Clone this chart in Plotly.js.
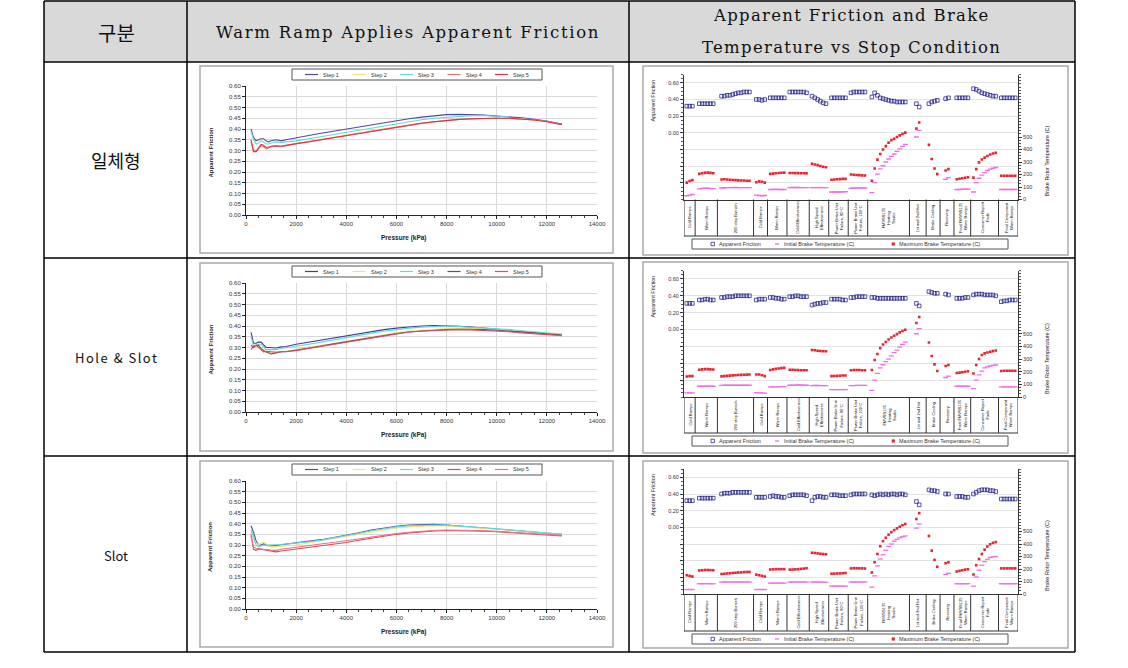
<!DOCTYPE html>
<html><head><meta charset="utf-8">
<script src="https://cdn.plot.ly/plotly-3.0.1.min.js"></script>
<style>html,body{margin:0;padding:0;background:#fff;}#chart{width:1128px;height:668px;}</style>
</head><body><div id="chart"></div>
<script>
// ================= DATA =================
const rowLabels = ["일체형", "Hole & Slot", "Slot"];
const headerCol1 = "구분";
const headerCol2 = "Warm Ramp Applies Apparent Friction";
const headerCol3a = "Apparent Friction and Brake";
const headerCol3b = "Temperature vs Stop Condition";
const stepNames = ["Step 1", "Step 2", "Step 3", "Step 4", "Step 5"];
const seriesNames = ["Apparent Friction", "Initial Brake Temperature (C)", "Maximum Brake Temperature (C)"];

// Warm ramp: pressure (kPa)
const pressure = [200,300,400,500,600,700,800,900,1000,1200,1400,1600,2000,2500,3000,3500,4000,4500,5000,5500,6000,6500,7000,7500,8000,8500,9000,9500,10000,10500,11000,11500,12000,12600];

// Row 1 (일체형) warm ramp friction
const rampA_step1 = [0.400,0.360,0.345,0.350,0.355,0.355,0.345,0.340,0.345,0.350,0.345,0.350,0.360,0.370,0.380,0.390,0.400,0.410,0.420,0.430,0.440,0.448,0.455,0.462,0.467,0.468,0.467,0.465,0.460,0.457,0.452,0.445,0.437,0.423];
const rampA_step2 = [0.350,0.310,0.300,0.315,0.325,0.320,0.310,0.315,0.320,0.322,0.320,0.325,0.335,0.343,0.352,0.362,0.372,0.382,0.392,0.402,0.412,0.420,0.428,0.435,0.440,0.445,0.448,0.450,0.450,0.450,0.447,0.442,0.435,0.420];
const rampA_step3 = [0.390,0.350,0.330,0.335,0.345,0.340,0.330,0.330,0.335,0.340,0.338,0.340,0.345,0.355,0.365,0.375,0.385,0.395,0.405,0.415,0.425,0.435,0.443,0.450,0.455,0.460,0.462,0.462,0.460,0.457,null,null,null,null];
const rampA_step4 = [0.340,0.300,0.295,0.310,0.322,0.318,0.308,0.312,0.318,0.320,0.318,0.322,0.332,0.340,0.349,0.359,0.369,0.379,0.389,0.399,0.409,0.418,0.426,0.433,0.439,0.444,0.447,0.449,0.450,0.449,0.447,0.442,0.435,0.421];
const rampA_step5 = [0.350,0.295,0.295,0.310,0.328,0.324,0.314,0.316,0.320,0.322,0.320,0.324,0.333,0.341,0.350,0.360,0.370,0.380,0.390,0.400,0.410,0.419,0.427,0.434,0.440,0.445,0.448,0.450,0.450,0.450,0.447,0.442,0.434,0.420];
// Row 2 (Hole & Slot)
const rampB_step1 = [0.370,0.320,0.320,0.325,0.325,0.310,0.300,0.300,0.300,0.298,0.303,0.305,0.315,0.325,0.335,0.345,0.355,0.365,0.375,0.383,0.390,0.396,0.400,0.402,0.402,0.399,0.395,0.390,0.385,0.380,0.375,0.370,0.365,0.360];
const rampB_step2 = [0.320,0.300,0.305,0.310,0.300,0.290,0.280,0.275,0.275,0.280,0.280,0.283,0.290,0.300,0.310,0.320,0.330,0.340,0.350,0.360,0.368,0.375,0.380,0.385,0.388,0.390,0.390,0.388,0.385,0.382,0.378,0.373,0.368,0.365];
const rampB_step3 = [0.350,0.310,0.310,0.315,0.315,0.300,0.290,0.290,0.290,0.290,0.295,0.298,0.305,0.315,0.325,0.336,0.347,0.357,0.367,0.376,0.384,0.390,0.395,0.398,0.400,0.398,0.395,0.392,0.388,0.383,0.378,0.372,0.366,0.360];
const rampB_step4 = [0.310,0.300,0.310,0.310,0.295,0.285,0.280,0.275,0.270,0.275,0.280,0.280,0.287,0.297,0.307,0.317,0.327,0.337,0.347,0.357,0.365,0.372,0.377,0.381,0.384,0.385,0.385,0.383,0.380,0.376,0.372,0.367,0.362,0.358];
const rampB_step5 = [0.290,0.305,0.310,0.300,0.290,0.280,0.282,0.280,0.280,0.278,0.280,0.282,0.285,0.295,0.305,0.315,0.325,0.335,0.345,0.355,0.364,0.372,0.377,0.380,0.382,0.383,0.382,0.380,0.377,0.373,0.368,0.363,0.358,0.355];
// Row 3 (Slot)
const rampC_step1 = [0.390,0.360,0.320,0.300,0.300,0.305,0.300,0.295,0.295,0.298,0.300,0.302,0.310,0.317,0.325,0.335,0.345,0.357,0.370,0.380,0.388,0.394,0.397,0.397,0.394,0.390,0.385,0.380,0.375,0.370,0.365,0.360,0.355,0.350];
const rampC_step2 = [0.360,0.330,0.310,0.300,0.310,0.315,0.305,0.295,0.290,0.293,0.295,0.297,0.300,0.310,0.320,0.330,0.340,0.352,0.363,0.372,0.380,0.385,0.388,0.390,0.389,0.386,0.382,0.378,0.374,0.370,0.365,0.360,0.355,0.350];
const rampC_step3 = [0.370,0.340,0.300,0.290,0.295,0.300,0.300,0.300,0.300,0.300,0.302,0.305,0.308,0.315,0.323,0.333,0.343,0.355,0.367,0.377,0.385,0.390,0.393,0.394,0.393,0.390,0.386,0.381,0.376,0.371,0.366,0.360,0.355,0.350];
const rampC_step4 = [0.350,0.280,0.275,0.280,0.280,0.278,0.275,0.273,0.272,0.268,0.272,0.275,0.280,0.288,0.296,0.304,0.312,0.322,0.332,0.342,0.350,0.357,0.362,0.366,0.368,0.368,0.367,0.365,0.362,0.358,0.355,0.350,0.346,0.343];
const rampC_step5 = [0.340,0.290,0.285,0.285,0.282,0.280,0.280,0.278,0.275,0.275,0.280,0.283,0.288,0.295,0.303,0.311,0.319,0.328,0.337,0.346,0.354,0.360,0.365,0.368,0.370,0.370,0.369,0.367,0.364,0.360,0.357,0.352,0.348,0.345];

// Stop conditions (category boxes) and their widths in stop slots
const stopGroups = ["Cold Ramps","Warm Ramps","200 stop Burnish","Cold Ramps","Warm Ramps","Cold Effectiveness","High Speed<br>Effectiveness","Power Brake Unit<br>Failure, 80°C","Power Brake Unit<br>Failure, 100°C","FMVSS135<br>Heating<br>Snubs","1st and 2nd Hot","Brake Cooling","Recovery","Final FMVSS135<br>Warm Ramps","Consumer Report<br>Fade","Final Component<br>Warm Ramps"];
const groupSlots = [4,8,13,5,7,8,7,7,7,15,6,5,5,6,10,7];

// Row 1 (일체형)
const frictionA = [[0.32,0.32,0.32],[0.35,0.35,0.35,0.35,0.35,0.35],[0.44,0.44,0.45,0.45,0.46,0.47,0.48,0.48,0.49,0.49,0.49],[0.40,0.40,0.39,0.40],[0.42,0.42,0.42,0.42,0.42,0.42],[0.49,0.49,0.49,0.49,0.49,0.49,0.48],[0.44,0.42,0.40,0.38,0.36,0.35],[0.42,0.42,0.42,0.42,0.42,0.42],[0.48,0.49,0.49,0.49,0.49,0.49],[0.43,0.48,0.45,0.42,0.41,0.40,0.39,0.38,0.38,0.37,0.37,0.37,0.37],[0.35,0.31],[0.35,0.37,0.38,0.39],[0.41,0.42],[0.42,0.42,0.42,0.42,0.42],[0.53,0.52,0.50,0.48,0.47,0.46,0.45,0.44,0.44],[0.42,0.42,0.42,0.42,0.42,0.42]];
const initTempA = [[30,35,40],[85,88,90,90,88,87],[92,94,95,95,95,96,95,95,95,95,95],[35,32,30,32],[80,80,82,80,80,80],[95,96,96,96,95,95,95],[95,95,95,95,95,95],[60,60,60,60,62,62],[90,92,92,92,92,92],[55,135,203,245,270,300,324,345,364,385,405,425,440],[500,553],[null,null,null,null],[162,175],[80,80,82,82,82],[60,135,170,195,215,232,243,250,256],[80,80,80,80,80,80]];
const maxTempA = [[135,148,155],[205,210,213,215,213,210],[160,162,160,158,156,155,153,152,152,150,150],[138,145,142,135],[205,207,210,212,214,215],[212,212,211,211,210,210,209],[285,280,275,268,262,258],[158,160,162,163,165,165],[200,198,196,195,193,192],[150,248,319,364,400,427,455,475,485,500,513,525,535],[567,616],[437,324,248,203],[232,243],[162,166,170,174,178],[175,243,297,320,335,348,360,368,373],[190,190,190,190,190,190]];
// Row 2 (Hole & Slot)
const frictionB = [[0.31,0.31,0.31],[0.35,0.35,0.36,0.36,0.35,0.35],[0.38,0.38,0.39,0.39,0.39,0.40,0.40,0.40,0.40,0.40,0.40],[0.35,0.36,0.36,0.36],[0.38,0.38,0.37,0.37,0.36,0.36],[0.39,0.39,0.40,0.40,0.39,0.39,0.39],[0.29,0.30,0.31,0.31,0.32,0.32],[0.36,0.36,0.36,0.36,0.35,0.35],[0.38,0.38,0.39,0.39,0.39,0.39],[0.38,0.38,0.37,0.37,0.37,0.37,0.37,0.37,0.37,0.37,0.37,0.37,0.37],[0.31,0.28],[0.45,0.44,0.43,0.43],[0.42,0.41],[0.37,0.37,0.37,0.38,0.38],[0.41,0.42,0.42,0.42,0.41,0.41,0.41,0.41,0.40],[0.33,0.34,0.34,0.35,0.35,0.35]];
const initTempB = [[32,32,32],[85,85,85,85,85,85],[92,93,93,93,93,93,93,93,93,93,93],[35,32,32,30],[80,80,80,80,82,82],[93,93,94,95,95,94,93],[90,91,91,90,90,90],[58,58,58,58,58,58],[90,90,92,92,92,92],[53,133,186,230,255,280,300,325,350,370,395,415,434],[500,540],[null,null,null,null],[154,165],[85,85,85,85,85],[66,133,175,205,230,238,245,250,253],[80,80,80,80,80,80]];
const maxTempB = [[162,165,165],[215,218,220,220,218,217],[163,165,167,169,171,172,174,175,176,177,178],[178,178,172,165],[213,218,222,225,228,230],[216,215,214,213,212,212,211],[372,370,366,364,362,362],[165,166,167,168,170,170],[212,213,213,213,212,212],[213,293,340,386,415,435,455,470,484,497,511,522,532],[585,633],[431,324,258,205],[245,253],[190,193,196,200,203],[186,253,300,332,345,352,358,363,367],[205,207,208,208,208,207]];
// Row 3 (Slot)
const frictionC = [[0.32,0.32,0.32],[0.35,0.35,0.35,0.35,0.35,0.35],[0.40,0.41,0.41,0.41,0.42,0.42,0.42,0.42,0.42,0.42,0.42],[0.36,0.36,0.36,0.36],[0.37,0.38,0.37,0.37,0.36,0.36],[0.38,0.39,0.39,0.39,0.39,0.39,0.38],[0.32,0.36,0.37,0.37,0.36,0.36],[0.39,0.39,0.39,0.38,0.38,0.38],[0.39,0.40,0.40,0.40,0.40,0.40],[0.39,0.38,0.39,0.40,0.39,0.40,0.39,0.40,0.40,0.39,0.40,0.40,0.39],[0.31,0.27],[0.45,0.44,0.44,0.43],[0.40,0.40],[0.37,0.37,0.37,0.36,0.36],[0.40,0.42,0.44,0.45,0.45,0.45,0.44,0.44,0.43],[0.34,0.34,0.34,0.34,0.34,0.34]];
const initTempC = [[36,36,36],[82,82,83,83,82,82],[96,96,96,96,96,96,96,96,96,96,96],[36,36,36,36],[87,87,87,87,87,87],[96,96,96,96,96,96,96],[96,96,96,94,94,94],[63,63,63,63,63,63],[96,96,96,96,96,96],[55,145,225,280,314,350,380,400,423,437,450,458,464],[527,560],[null,null,null,null],[156,165],[82,82,82,82,82],[63,136,190,230,259,278,292,298,300],[82,82,82,82,82,82]];
const maxTempC = [[150,145,140],[188,190,192,192,191,190],[160,162,164,166,168,170,172,173,175,176,177],[155,150,145,140],[196,197,198,199,199,199],[195,196,197,199,201,203,206],[330,328,325,322,320,318],[162,163,164,165,166,168],[205,206,206,205,205,204],[172,254,320,382,423,450,475,495,511,525,538,550,560],[600,647],[464,347,273,218],[246,254],[180,185,190,195,198],[156,230,280,320,355,380,398,409,415],[205,205,205,205,205,205]];

// ================= BUILD =================
const W = 1128, H = 668;
const X = v => v / W;
const Y = v => 1 - v / H;
const sfx = i => (i === 1 ? '' : String(i));
const FONT = 'Liberation Sans, Arial, sans-serif';

const traces = [], shapes = [], annotations = [];
const layout = {
  width: W, height: H, autosize: false,
  margin: {l: 0, r: 0, t: 0, b: 0, pad: 0},
  paper_bgcolor: '#ffffff', plot_bgcolor: 'rgba(0,0,0,0)',
  showlegend: false, hovermode: false,
  font: {family: FONT, size: 6, color: '#333'}
};

function seg(x0, y0, x1, y1, color, width, layer) {
  shapes.push({type: 'line', xref: 'paper', yref: 'paper', x0: X(x0), y0: Y(y0), x1: X(x1), y1: Y(y1),
    line: {color: color, width: width}, layer: layer || 'above'});
}
function box(x0, y0, x1, y1, color, width, fill, layer) {
  shapes.push({type: 'rect', xref: 'paper', yref: 'paper', x0: X(x0), y0: Y(y0), x1: X(x1), y1: Y(y1),
    line: {color: color, width: width}, fillcolor: fill || 'rgba(0,0,0,0)', layer: layer || 'above'});
}
function label(t, x, y, opts) {
  const base = {text: t, x: X(x), y: Y(y), xref: 'paper', yref: 'paper', showarrow: false,
    xanchor: 'center', yanchor: 'middle', font: {size: 6, color: '#222', family: FONT}};
  annotations.push(Object.assign(base, opts || {}));
}

// ---- table ----
box(44, 1, 1075, 62, 'rgba(0,0,0,0)', 0, '#d9d9d9', 'below');
[44, 187, 629, 1075].forEach(x => seg(x, 1, x, 652, '#000', 1.5));
[1, 62, 258, 456, 652].forEach(y => seg(44, y, 1075, y, '#000', 1.5));
label(headerCol1, 116, 32, {font: {size: 20, color: '#111', family: 'Noto Sans CJK KR, sans-serif'}});
label('<span style="letter-spacing:1.7px">' + headerCol2 + '</span>', 408, 32, {font: {size: 16.5, color: '#111', family: 'DejaVu Serif, serif'}});
label('<span style="letter-spacing:1.3px">' + headerCol3a + '</span>', 851, 16, {font: {size: 16.5, color: '#111', family: 'DejaVu Serif, serif'}});
label('<span style="letter-spacing:1.3px">' + headerCol3b + '</span>', 851, 47, {font: {size: 16.5, color: '#111', family: 'DejaVu Serif, serif'}});
const rowCenters = [160, 358, 555];
label(rowLabels[0], 116, rowCenters[0], {font: {size: 18, color: '#111', family: 'Noto Sans CJK KR, sans-serif'}});
label('<span style="letter-spacing:1.5px">' + rowLabels[1] + '</span>', 116, rowCenters[1], {font: {size: 13, color: '#111', family: 'Noto Sans CJK KR, sans-serif'}});
label(rowLabels[2], 116, rowCenters[2], {font: {size: 13, color: '#111', family: 'Noto Sans CJK KR, sans-serif'}});

// ---- geometry (pixels) ----
const LINE_X = [246, 597];
const LINE_TOP = [86, 283, 481], LINE_BOT = [215, 412, 609];
const LINE_FRAME = [[66, 253], [263, 451], [461, 647]];
const LINE_LEG = [69, 266, 464];
const DUAL_X = [684, 1018];
const DUAL_TOP = [74.5, 270.5, 469], DUAL_BOT = [199.5, 397, 594];
const DUAL_BOX = [236, 433, 631], DUAL_LEG = [239, 436, 634];
const DUAL_FRAME = [[66, 255], [262, 453], [461, 648]];

const rampRows = [
  [rampA_step1, rampA_step2, rampA_step3, rampA_step4, rampA_step5],
  [rampB_step1, rampB_step2, rampB_step3, rampB_step4, rampB_step5],
  [rampC_step1, rampC_step2, rampC_step3, rampC_step4, rampC_step5]
];
const stepColors = [
  ['#4b4ba0', '#f0e27a', '#5fdada', '#ea7474', '#e2304c'],
  ['#3e3e96', '#f0e27a', '#5fdada', '#6e4b5a', '#e6476a'],
  ['#4b4ba0', '#f0e27a', '#5fdada', '#e24848', '#ec7090']
];
const dualRows = [[frictionA, initTempA, maxTempA], [frictionB, initTempB, maxTempB], [frictionC, initTempC, maxTempC]];

// stop positions derived from group sizes
const boundaries = [0];
groupSlots.forEach(s => boundaries.push(boundaries[boundaries.length - 1] + s));
const totalSlots = boundaries[boundaries.length - 1];
function flatten(groups) {
  const xs = [], ys = [];
  groups.forEach((g, i) => {
    const off = boundaries[i] + (groupSlots[i] - g.length) / 2 + 0.5;
    g.forEach((v, j) => { xs.push(off + j); ys.push(v); });
  });
  return {xs, ys};
}

for (let r = 0; r < 3; r++) {
  const xi = 2 * r + 1, yi = 3 * r + 1;
  const xd = 2 * r + 2, yd = 3 * r + 2, yt = 3 * r + 3;

  // ===== line chart =====
  box(200, LINE_FRAME[r][0], 613, LINE_FRAME[r][1], '#a9a9a9', 1.5, null, 'below');
  layout['xaxis' + sfx(xi)] = {
    domain: [X(LINE_X[0]), X(LINE_X[1])], anchor: 'y' + sfx(yi), range: [0, 14000],
    tickmode: 'linear', tick0: 0, dtick: 2000, tickformat: 'd', showline: true, linecolor: '#222', linewidth: 1,
    ticks: 'outside', ticklen: 3, tickcolor: '#222', showgrid: true, gridcolor: '#d9d9d9', gridwidth: 1,
    zeroline: false, tickfont: {size: 6, color: '#333', family: FONT},
    minor: {ticks: 'outside', ticklen: 2, tickcolor: '#444', tickmode: 'linear', tick0: 0, dtick: 500, showgrid: false}
  };
  layout['yaxis' + sfx(yi)] = {
    domain: [Y(LINE_BOT[r]), Y(LINE_TOP[r])], anchor: 'x' + sfx(xi), range: [0, 0.6],
    tickmode: 'linear', tick0: 0, dtick: 0.05, tickformat: '.2f', showline: true, linecolor: '#222', linewidth: 1,
    ticks: 'outside', ticklen: 3, tickcolor: '#222', showgrid: true, gridcolor: '#d9d9d9', gridwidth: 1,
    zeroline: false, tickfont: {size: 6, color: '#333', family: FONT}
  };
  rampRows[r].forEach((vals, k) => {
    traces.push({type: 'scatter', mode: 'lines', x: pressure, y: vals, name: stepNames[k],
      xaxis: 'x' + sfx(xi), yaxis: 'y' + sfx(yi), line: {color: stepColors[r][k], width: 1.1}, connectgaps: false});
  });
  label('<b>Apparent Friction</b>', 210, (LINE_TOP[r] + LINE_BOT[r]) / 2 + 2, {textangle: -90, font: {size: 6, color: '#222', family: FONT}});
  label('<b>Pressure (kPa)</b>', 404, LINE_BOT[r] + 23, {font: {size: 6.5, color: '#222', family: FONT}});
  // legend
  const lt = LINE_LEG[r], lm = lt + 5.5;
  box(292, lt, 542, lt + 11, '#555', 1, '#fff', 'above');
  stepNames.forEach((nm, k) => {
    const x0 = 305 + 47.5 * k;
    seg(x0, lm, x0 + 13, lm, stepColors[r][k], 1.2);
    label(nm, x0 + 16, lm, {xanchor: 'left', font: {size: 5.5, color: '#333', family: FONT}});
  });

  // ===== dual-axis chart =====
  box(643, DUAL_FRAME[r][0], 1068, DUAL_FRAME[r][1], '#a9a9a9', 1.5, null, 'below');
  layout['xaxis' + sfx(xd)] = {
    domain: [X(DUAL_X[0]), X(DUAL_X[1])], anchor: 'y' + sfx(yd), range: [0, totalSlots],
    showticklabels: false, ticks: '', showgrid: false, zeroline: false, showline: true, linecolor: '#333', linewidth: 1
  };
  layout['yaxis' + sfx(yd)] = {
    domain: [Y(DUAL_BOT[r]), Y(DUAL_TOP[r])], anchor: 'x' + sfx(xd), range: [-0.8, 0.7],
    tickmode: 'array', tickvals: [-0.6, -0.4, -0.2, 0, 0.2, 0.4, 0.6], ticktext: ['', '', '', '0.00', '0.20', '0.40', '0.60'],
    showline: true, linecolor: '#333', linewidth: 1, ticks: 'outside', ticklen: 3, tickcolor: '#333',
    showgrid: true, gridcolor: '#e3e3e3', gridwidth: 1, zeroline: false, tickfont: {size: 5.5, color: '#333', family: FONT},
    minor: {ticks: 'outside', ticklen: 2, tickcolor: '#555', tickmode: 'linear', tick0: 0, dtick: 0.05, showgrid: false}
  };
  layout['yaxis' + sfx(yt)] = {
    domain: [Y(DUAL_BOT[r]), Y(DUAL_TOP[r])], anchor: 'x' + sfx(xd), overlaying: 'y' + sfx(yd), side: 'right',
    range: [0, 1000], tickmode: 'array', tickvals: [0, 100, 200, 300, 400, 500],
    showline: true, linecolor: '#333', linewidth: 1, ticks: 'outside', ticklen: 3, tickcolor: '#333',
    showgrid: false, zeroline: false, tickfont: {size: 5.5, color: '#333', family: FONT},
    minor: {ticks: 'outside', ticklen: 2, tickcolor: '#555', tickmode: 'linear', tick0: 0, dtick: 25, showgrid: false}
  };
  const [fr, it, mt] = dualRows[r];
  const F = flatten(fr), I = flatten(it), M = flatten(mt);
  traces.push({type: 'scatter', mode: 'markers', x: M.xs, y: M.ys, name: seriesNames[2],
    xaxis: 'x' + sfx(xd), yaxis: 'y' + sfx(yt), marker: {symbol: 'square', size: 2.6, color: '#e8232c'}});
  traces.push({type: 'scatter', mode: 'markers', x: I.xs, y: I.ys, name: seriesNames[1],
    xaxis: 'x' + sfx(xd), yaxis: 'y' + sfx(yt), marker: {symbol: 'line-ew-open', size: 3.5, color: '#f06de6', line: {width: 1.3}}});
  traces.push({type: 'scatter', mode: 'markers', x: F.xs, y: F.ys, name: seriesNames[0],
    xaxis: 'x' + sfx(xd), yaxis: 'y' + sfx(yd), marker: {symbol: 'square-open', size: 3.6, color: '#2a2a90', line: {width: 0.8}}});

  // category boxes
  boundaries.forEach(b => {
    shapes.push({type: 'line', xref: 'x' + sfx(xd), yref: 'paper', x0: b, x1: b, y0: Y(DUAL_BOT[r]), y1: Y(DUAL_BOX[r]),
      line: {color: '#333', width: 1}});
  });
  seg(DUAL_X[0], DUAL_BOX[r], DUAL_X[1], DUAL_BOX[r], '#333', 1);
  stopGroups.forEach((g, i) => {
    annotations.push({text: g, x: (boundaries[i] + boundaries[i + 1]) / 2, y: Y((DUAL_BOT[r] + DUAL_BOX[r]) / 2),
      xref: 'x' + sfx(xd), yref: 'paper', showarrow: false, textangle: -90, xanchor: 'center', yanchor: 'middle',
      font: {size: 4, color: '#111', family: FONT}});
  });
  label(seriesNames[0], 653, DUAL_TOP[r] + 26, {textangle: -90, font: {size: 5.5, color: '#222', family: FONT}});
  label('Brake Rotor Temperature (C)', 1047, DUAL_BOT[r] - 38, {textangle: -90, font: {size: 5.5, color: '#222', family: FONT}});
  // legend
  const dt = DUAL_LEG[r], dm = dt + 5;
  box(692, dt, 1008, dt + 10, '#555', 1, '#fff', 'above');
  box(711, dm - 1.7, 714.4, dm + 1.7, '#2a2a90', 0.8, '#fff', 'above');
  label(seriesNames[0], 717, dm, {xanchor: 'left', font: {size: 5.5, color: '#333', family: FONT}});
  seg(775, dm, 779, dm, '#f06de6', 1.3);
  label(seriesNames[1], 782, dm, {xanchor: 'left', font: {size: 5.5, color: '#333', family: FONT}});
  box(892, dm - 1.3, 894.6, dm + 1.3, '#e8232c', 0.5, '#e8232c', 'above');
  label(seriesNames[2], 897, dm, {xanchor: 'left', font: {size: 5.5, color: '#333', family: FONT}});
}

layout.shapes = shapes;
layout.annotations = annotations;
Plotly.newPlot('chart', traces, layout, {displayModeBar: false, staticPlot: true});
</script>
</body></html>
